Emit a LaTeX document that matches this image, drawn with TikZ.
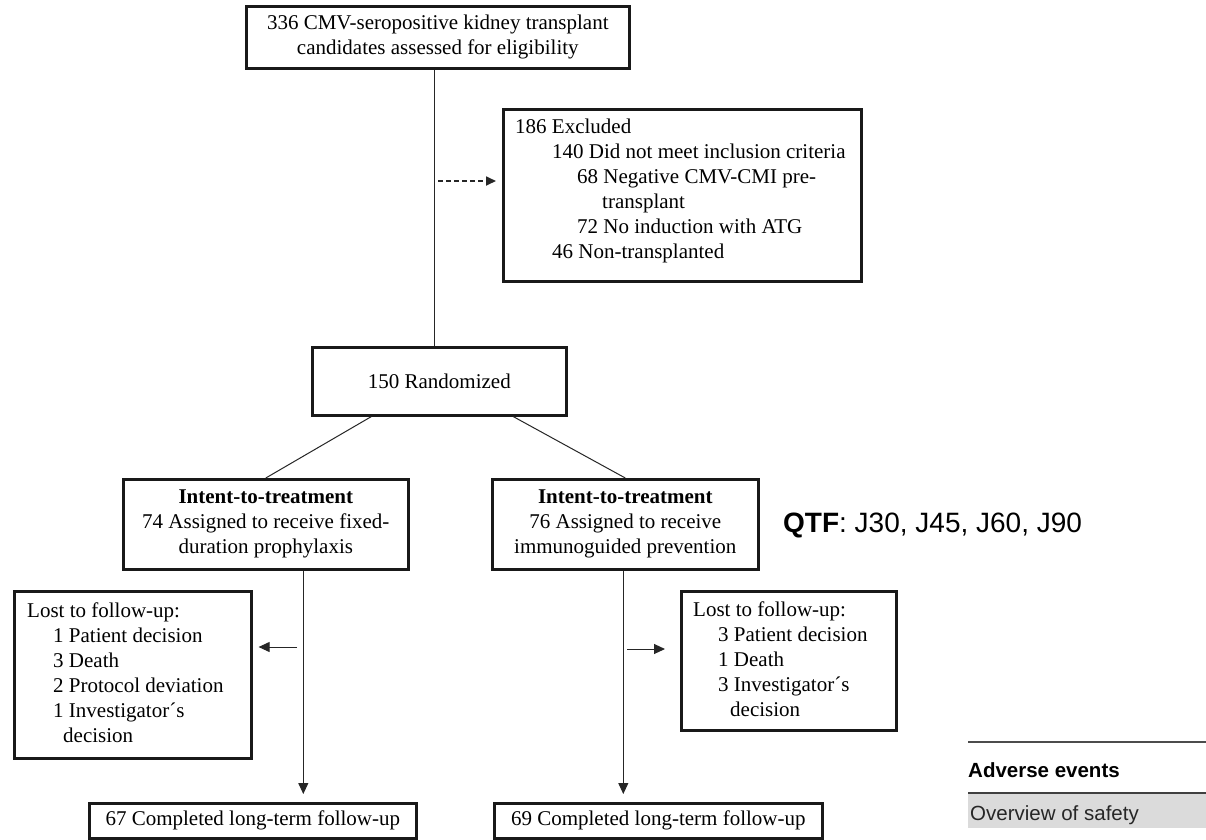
\documentclass[tikz,border=0pt]{standalone}
\usepackage{fontspec}
\setmainfont{Liberation Serif}
\newfontfamily\sansf{Liberation Sans}
\usetikzlibrary{arrows.meta}
\begin{document}
\begin{tikzpicture}[x=1pt,y=-1pt,
  box/.style={draw=black!90, line width=2.6pt, inner sep=0pt, anchor=north west,
              font=\fontsize{21}{25}\selectfont, align=center},
  conn/.style={draw=black!85, line width=1pt},
  arr/.style={conn, -{Triangle[length=11pt,width=10pt]}},
  txt/.style={anchor=base west, inner sep=0pt, font=\fontsize{21}{25}\selectfont},
  tabtxt/.style={anchor=base west, inner sep=0pt, font=\sansf\fontsize{20.5}{24}\selectfont, text=black!85},
]
\useasboundingbox[fill=white] (0,0) rectangle (1206,839);

% boxes
\node[box, minimum width=383, minimum height=62] (top) at (245,5)
  {336 CMV-seropositive kidney transplant\\candidates assessed for eligibility};
\node[box, minimum width=358, minimum height=172] (excl) at (502,108) {};
\node[box, minimum width=254, minimum height=68] (rand) at (311,346) {150 Randomized};
\node[box, minimum width=285, minimum height=90] (ittL) at (122,478)
  {\textbf{Intent-to-treatment}\\74 Assigned to receive fixed-\\duration prophylaxis};
\node[box, minimum width=266, minimum height=90] (ittR) at (491,478)
  {\textbf{Intent-to-treatment}\\76 Assigned to receive\\immunoguided prevention};
\node[box, minimum width=237, minimum height=167] (lostL) at (13,590) {};
\node[box, minimum width=215, minimum height=139] (lostR) at (680,590) {};
\node[box, minimum width=327, minimum height=35] (compL) at (88,802) {67 Completed long-term follow-up};
\node[box, minimum width=328, minimum height=35] (compR) at (493,802) {69 Completed long-term follow-up};

% excluded text
\node[txt] (e1) at (515,133) {186 Excluded};
\node[txt] (e2) at (552,158) {140 Did not meet inclusion criteria};
\node[txt] (e3) at (577,183) {68 Negative CMV-CMI pre-};
\node[txt] (e4) at (602,208) {transplant};
\node[txt] (e5) at (577,233) {72 No induction with ATG};
\node[txt] (e6) at (552,258) {46 Non-transplanted};

% lost left
\node[txt] (l1) at (27,617) {Lost to follow-up:};
\node[txt] (l2) at (53,642) {1 Patient decision};
\node[txt] (l3) at (53,667) {3 Death};
\node[txt] (l4) at (53,692) {2 Protocol deviation};
\node[txt] (l5) at (53,717) {1 Investigator´s};
\node[txt] (l6) at (63,742) {decision};

% lost right
\node[txt] (r1) at (693,616) {Lost to follow-up:};
\node[txt] (r2) at (718,641) {3 Patient decision};
\node[txt] (r3) at (718,666) {1 Death};
\node[txt] (r4) at (718,691) {3 Investigator´s};
\node[txt] (r5) at (730,716) {decision};

% connectors
\draw[conn] ([xshift=-3.5]top.south) -- ([xshift=-3.5]top.south |- rand.north);
\coordinate (d1) at (438,181);
\draw[conn, line width=1.7pt, dash pattern=on 5pt off 3pt, -{Triangle[length=10pt,width=9pt]}] (d1) -- ([xshift=-6]d1 -| excl.west);
\draw[conn] ([xshift=-68]rand.south) -- (ittL.north);
\draw[conn] ([xshift=74]rand.south) -- (ittR.north);
\draw[arr] ([xshift=37.5]ittL.south) -- ([xshift=37.5,yshift=8]ittL.south |- compL.north);
\draw[arr] ([xshift=-2]ittR.south) -- ([xshift=-2,yshift=8]ittR.south |- compR.north);
\coordinate (la) at (297,647);
\draw[arr] (la) -- ([xshift=6]la -| lostL.east);
\coordinate (ra) at (627,649);
\draw[arr] (ra) -- ([xshift=-15]ra -| lostR.west);

% side text
\node[anchor=base west, inner sep=0pt, font=\sansf\fontsize{28}{32}\selectfont] (qtf) at (783,532)
  {\textbf{QTF}: J30, J45, J60, J90};

% table fragment
\fill[black!14] (968,793) rectangle (1206,828);
\draw[line width=1.5pt, black!70] (968,742) -- (1206,742);
\draw[line width=1.5pt, black!75] (968,793) -- (1206,793);
\node[tabtxt, text=black] (ae) at (968,777) {\textbf{Adverse events}};
\node[tabtxt] (os) at (970,820) {Overview of safety};
\end{tikzpicture}
\end{document}
